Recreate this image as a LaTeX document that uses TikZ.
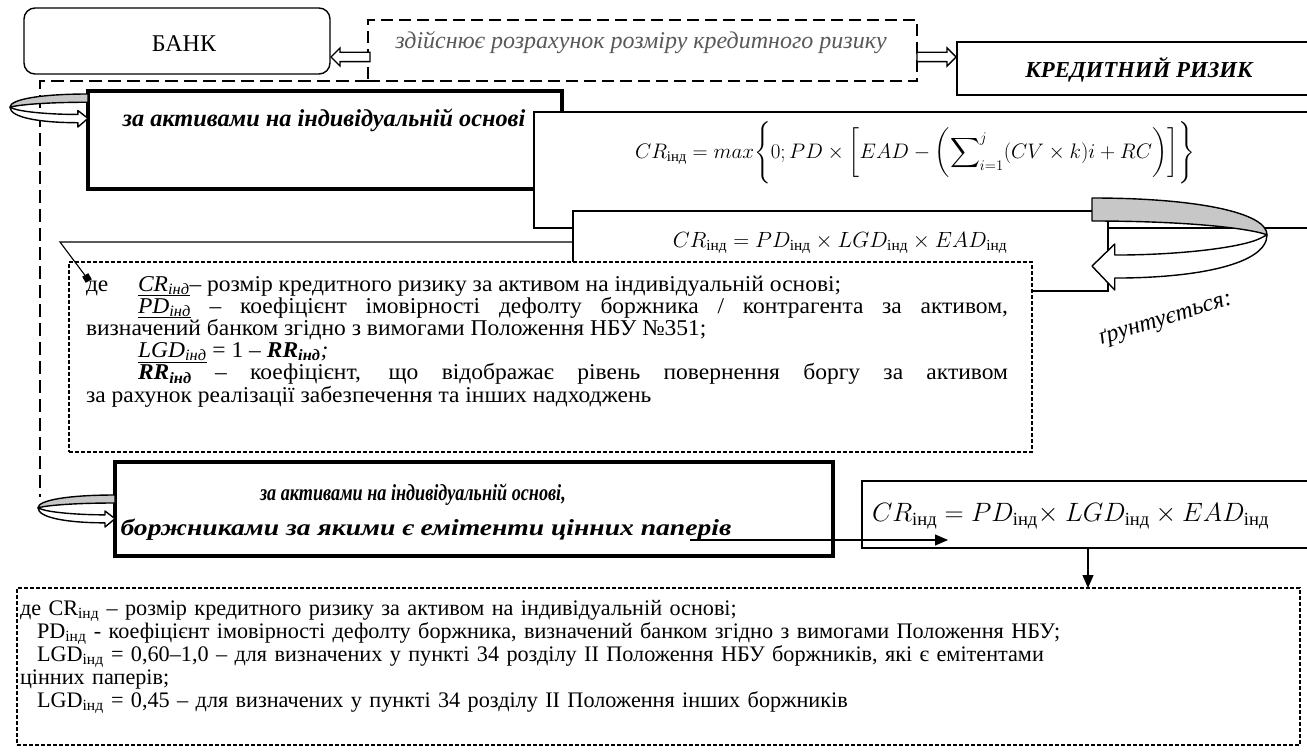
\RequirePackage{fix-cm}
\documentclass[tikz,border=0pt]{standalone}
\usepackage{fontspec}
\usepackage{amsmath}
\setmainfont{Liberation Serif}
\newfontfamily\legendfont[FakeStretch=1.04]{Liberation Serif}
\newfontfamily\narrowfont[FakeStretch=0.79]{Liberation Serif}
\newfontfamily\widefont[FakeStretch=1.2]{Liberation Serif}
\usetikzlibrary{shapes.arrows,arrows.meta,calc}

% underline that sits just under the subscripts
\newcommand\symline[1]{\setbox0\hbox{#1}\rlap{\rule[-5pt]{\wd0}{0.9pt}}\box0\relax}

% U-turn ribbon arrow, drawn in a unit box: u runs from the attached end (0)
% to the far bend (1), v runs from top (0) to bottom (1)
\newcommand\turnarrow[1]{%
  \begin{scope}[#1]
    \draw[line width=1.4pt, fill=white, line join=round]
      (1,0.4) .. controls (1,0.72) and (0.6,0.87) .. (0.13,0.87)
      -- (0.13,1) -- (0,0.74) -- (0.13,0.5) -- (0.13,0.62)
      .. controls (0.5,0.62) and (0.85,0.54) .. (0.96,0.44) -- cycle;
    \draw[line width=1.4pt, fill=black!22, line join=round]
      (0,0) .. controls (0.6,0) and (1,0.16) .. (1,0.4)
      .. controls (0.9,0.33) and (0.55,0.25) .. (0,0.25) -- cycle;
  \end{scope}}

\begin{document}
\begin{tikzpicture}[x=1pt, y=-1pt,
  plainbox/.style={draw, line width=1.1pt, fill=white, inner sep=0pt, outer sep=0pt, anchor=north west},
  heavybox/.style={plainbox, line width=3.4pt},
  roundbox/.style={plainbox, line width=1.4pt, rounded corners=11pt},
  calcbox/.style={plainbox, line width=2.3pt, dash pattern=on 12pt off 6pt},
  notebox/.style={plainbox, line width=1.2pt, dash pattern=on 4pt off 2pt},
  outline/.style={line width=1.2pt, dash pattern=on 13pt off 6pt},
  blockarrow/.style={single arrow, draw, fill=white, line width=1.3pt, inner xsep=0pt,
    inner ysep=4pt, single arrow head extend=4.5pt, single arrow head indent=0pt,
    minimum height=39pt, anchor=tip},
  lbl/.style={inner sep=0pt, outer sep=0pt},
  pointer/.style={line width=1.1pt, -{Triangle[length=13pt, width=11pt]}},
]
\useasboundingbox (0,0) rectangle (1307,752);
\clip (0,0) rectangle (1307,752);

% long dashed frame running from the calculation box down the left side
\coordinate (frameend) at (40,497);
\node[calcbox, minimum width=549pt, minimum height=61pt] (calc) at (368,20) {};
\draw[outline] (calc.south west) -| (frameend);
\node[calcbox, minimum width=549pt, minimum height=61pt] (calc) at (368,20) {};
\node[lbl, font=\fontsize{24}{28}\selectfont\itshape, text=black!65] (calctext) at (641,43)
  {здійснює розрахунок розміру кредитного ризику};

% top row
\node[roundbox, minimum width=306pt, minimum height=66pt] (bank) at (24,8) {};
\node[lbl, font=\fontsize{24}{28}\selectfont] (banktext) at (184,44) {БАНК};
\node[plainbox, minimum width=353pt, minimum height=53pt] (risk) at (957,42) {};
\node[lbl, font=\fontsize{22.8}{26}\selectfont\bfseries\itshape] (risktext) at (1139,70) {КРЕДИТНИЙ РИЗИК};
\node[blockarrow, shape border rotate=180] (toBank) at ([yshift=-16pt]bank.east) {};
\node[blockarrow] (toRisk) at ([yshift=11.5pt]risk.west) {};

% individual assets branch
\node[heavybox, minimum width=474pt, minimum height=98pt] (indiv) at (88,91) {};
\node[lbl, font=\fontsize{24.3}{28}\selectfont\bfseries\itshape] (indivtext) at (324,120)
  {за активами на індивідуальній основі};
\turnarrow{shift={(88,94)}, xscale=-78, yscale=33}

\node[plainbox, minimum width=776pt, minimum height=116pt] (fmax) at (534,112) {};
\node[lbl, font=\fontsize{21}{25}\selectfont] (fmaxtext) at (915,153)
  {$\displaystyle CR_{\text{інд}} = max\Biggl\{0; PD \times \biggl[EAD - \biggl(\sum\nolimits_{i=1}^{j}(CV \times k)i + RC\biggr)\biggr]\Biggr\}$};

\node[plainbox, minimum width=535pt, minimum height=80pt] (fprod) at (573,211) {};
\node[lbl, font=\fontsize{22}{26}\selectfont] (fprodtext) at (840,243)
  {$CR_{\text{інд}} = PD_{\text{інд}} \times LGD_{\text{інд}} \times EAD_{\text{інд}}$};

% explanation of the symbols
\node[notebox, minimum width=963pt, minimum height=190pt] (legend) at (69,262) {};
\node[lbl, anchor=base west, text width=922pt, align=left,
      font=\legendfont\fontsize{22.6}{22.2}\selectfont] (legendtext) at (86,291)
  {\spaceskip=0pt\xspaceskip=0pt
   \makebox[52pt][l]{де}\symline{\textit{CR\textsubscript{інд}}}– розмір кредитного ризику за активом на індивідуальній основі;\\
   \hspace*{52pt}\makebox[870pt][s]{\symline{\textit{PD\textsubscript{інд}}} – коефіцієнт імовірності дефолту боржника / контрагента за активом,}\\
   визначений банком згідно з вимогами Положення НБУ №351;\\
   \hspace*{52pt}\symline{\textit{LGD\textsubscript{інд}}} = 1 – \textbf{\textit{RR\textsubscript{інд}}}\textit{;}\\
   \hspace*{52pt}\makebox[870pt][s]{\textbf{\textit{RR\textsubscript{інд}}} – коефіцієнт, що відображає рівень повернення боргу за активом}\\
   за рахунок реалізації забезпечення та інших надходжень};

% callout from the product formula to the legend
\coordinate (callbend) at (60,242);
\coordinate (callend) at (87,278);
\draw[line width=1.1pt] (fprod.west |- callbend) -- (callbend) -- (callend);
\node[lbl, fill=black, minimum size=7pt, rotate=30] (callmark) at (callend) {};

% "based on" turn arrow
\turnarrow{shift={(1092,198)}, xscale=175, yscale=92}
\node[lbl, font=\fontsize{24}{28}\selectfont\itshape, rotate=17] (basedon) at (1166,320) {ґрунтується:};

% securities issuers branch
\node[heavybox, minimum width=718pt, minimum height=94pt] (issuers) at (115,462) {};
\node[lbl, font=\narrowfont\fontsize{23}{26}\selectfont\bfseries\itshape] (issuersA) at (413,495)
  {за активами на індивідуальній основі,};
\node[lbl, font=\widefont\fontsize{23}{26}\selectfont\bfseries\itshape] (issuersB) at (426,530)
  {боржниками за якими є емітенти цінних паперів};
\turnarrow{shift={(115,495)}, xscale=-77, yscale=32}

\node[plainbox, minimum width=448pt, minimum height=67pt] (fsec) at (862,481) {};
\node[lbl, anchor=west, font=\fontsize{26.5}{30}\selectfont] (fsectext) at (872,516)
  {$CR_{\text{інд}} = PD_{\text{інд}}{\times}\ LGD_{\text{інд}} \times EAD_{\text{інд}}$};

\coordinate (secstart) at (690,540);
\coordinate (sectip) at (948,540);
\draw[pointer] (secstart) -- (sectip);

% notes for the securities formula
\node[notebox, minimum width=1283pt, minimum height=157pt] (notes) at (17,588) {};
\node[lbl, anchor=base west, text width=1270pt, align=left,
      font=\fontsize{22.2}{23}\selectfont] (notestext) at (20,615)
  {де CR\textsubscript{інд} – розмір кредитного ризику за активом на індивідуальній основі;\\
   \hspace*{17pt}PD\textsubscript{інд} - коефіцієнт імовірності дефолту боржника, визначений банком згідно з вимогами Положення НБУ;\\
   \hspace*{17pt}LGD\textsubscript{інд} = 0,60–1,0 – для визначених у пункті 34 розділу II Положення НБУ боржників, які є емітентами\\
   цінних паперів;\\
   \hspace*{17pt}LGD\textsubscript{інд} = 0,45 – для визначених у пункті 34 розділу II Положення інших боржників};

\coordinate (dropx) at (1088,0);
\draw[pointer] (fsec.south -| dropx) -- (notes.north -| dropx);
\end{tikzpicture}
\end{document}
